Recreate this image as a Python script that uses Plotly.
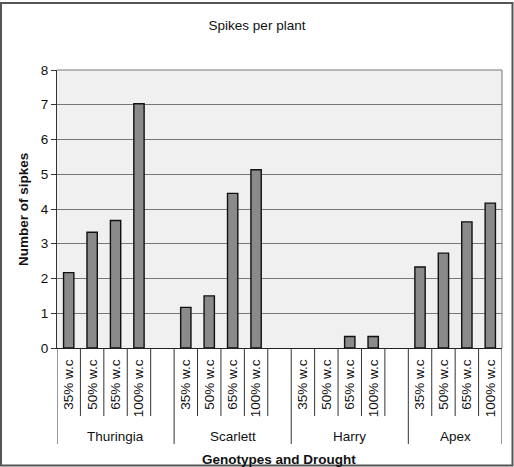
import plotly.graph_objects as go

genotypes = ["Thuringia", "Scarlett", "Harry", "Apex"]
levels = ["35% w.c", "50% w.c", "65% w.c", "100% w.c"]
thuringia = [2.17, 3.33, 3.67, 7.03]
scarlett = [1.17, 1.50, 4.45, 5.13]
harry = [0.0, 0.0, 0.33, 0.33]
apex = [2.33, 2.73, 3.63, 4.17]
series = [thuringia, scarlett, harry, apex]

# slot layout: 4 bars per genotype, one empty slot between genotypes
xs, ys, tickvals, ticktext = [], [], [], []
group_spans = []
slot = 0
for gi, vals in enumerate(series):
    start = slot
    for li, v in enumerate(vals):
        xs.append(slot)
        ys.append(v)
        tickvals.append(slot)
        ticktext.append(levels[li])
        slot += 1
    if gi < len(series) - 1:
        slot += 1  # empty slot
    group_spans.append((start - 0.5, slot - 0.5))
n_slots = slot

W, H = 514, 467
L, R, T, B = 57, 12, 70, 119
pw, ph = W - L - R, H - T - B
FS = 13.5

def py(pix):
    return (H - B - pix) / ph

def px(pix):
    return (pix - L) / pw

fig = go.Figure()
fig.add_trace(go.Bar(
    x=xs, y=ys,
    marker=dict(color="#8a8a8a",
                line=dict(color="#111111", width=[0 if v == 0 else 1.4 for v in ys])),
    width=0.44,
    showlegend=False,
))

shapes = []
# category boundary ticks
for k in range(n_slots + 1):
    shapes.append(dict(type="line", xref="x", yref="paper", x0=k - 0.5, x1=k - 0.5,
                       y0=0, y1=py(416), line=dict(color="#333333", width=1)))
# group boundary lines
bounds = sorted(set([s for s, e in group_spans] + [e for s, e in group_spans]))
for b in bounds:
    shapes.append(dict(type="line", xref="x", yref="paper", x0=b, x1=b,
                       y0=py(416), y1=py(444), line=dict(color="#333333", width=1)))
# outer border
shapes.append(dict(type="rect", xref="paper", yref="paper",
                   x0=px(1), x1=px(512.5), y0=py(3), y1=py(465.5),
                   line=dict(color="#555555", width=2)))

annotations = []
for g, (s, e) in zip(genotypes, group_spans):
    annotations.append(dict(x=(s + e) / 2, y=py(436), xref="x", yref="paper",
                            text=g, showarrow=False, xanchor="center", yanchor="middle",
                            font=dict(size=FS, color="#111111")))
annotations.append(dict(x=px(279), y=py(459), xref="paper", yref="paper",
                        text="<b>Genotypes and Drought</b>", showarrow=False,
                        xanchor="center", yanchor="middle",
                        font=dict(size=FS, color="#111111")))
annotations.append(dict(x=px(23), y=py(210), xref="paper", yref="paper",
                        text="<b>Number of sipkes</b>", showarrow=False, textangle=-90,
                        xanchor="center", yanchor="middle",
                        font=dict(size=FS, color="#111111")))

fig.update_layout(
    width=W, height=H,
    margin=dict(l=L, r=R, t=T, b=B),
    paper_bgcolor="white",
    plot_bgcolor="#f0f0f0",
    font=dict(family="Liberation Sans, Arial, sans-serif", size=FS, color="#111111"),
    title=dict(text="Spikes per plant", x=0.5, xanchor="center", y=1 - 25 / H,
               yanchor="middle", font=dict(size=FS, color="#111111")),
    xaxis=dict(range=[-0.5, n_slots - 0.5], tickvals=tickvals, ticktext=ticktext,
               tickangle=-90, ticks="outside", ticklen=5, tickcolor="rgba(0,0,0,0)",
               showgrid=False, zeroline=False, showline=True, linecolor="#222222",
               linewidth=1, mirror=False, tickfont=dict(size=FS)),
    yaxis=dict(range=[0, 8], dtick=1, ticks="outside", ticklen=5, tickcolor="#333333",
               showgrid=True, gridcolor="#777777", gridwidth=1, zeroline=False,
               showline=True, linecolor="#333333", linewidth=1, tickfont=dict(size=FS)),
    shapes=shapes,
    annotations=annotations,
    bargap=0.56,
)
# top and right frame of the plot area
fig.add_shape(type="line", xref="paper", yref="paper", x0=0, x1=1, y0=1, y1=1,
              line=dict(color="#777777", width=1))
fig.add_shape(type="line", xref="paper", yref="paper", x0=1, x1=1, y0=0, y1=1,
              line=dict(color="#777777", width=1))

fig.write_html("out.html")
